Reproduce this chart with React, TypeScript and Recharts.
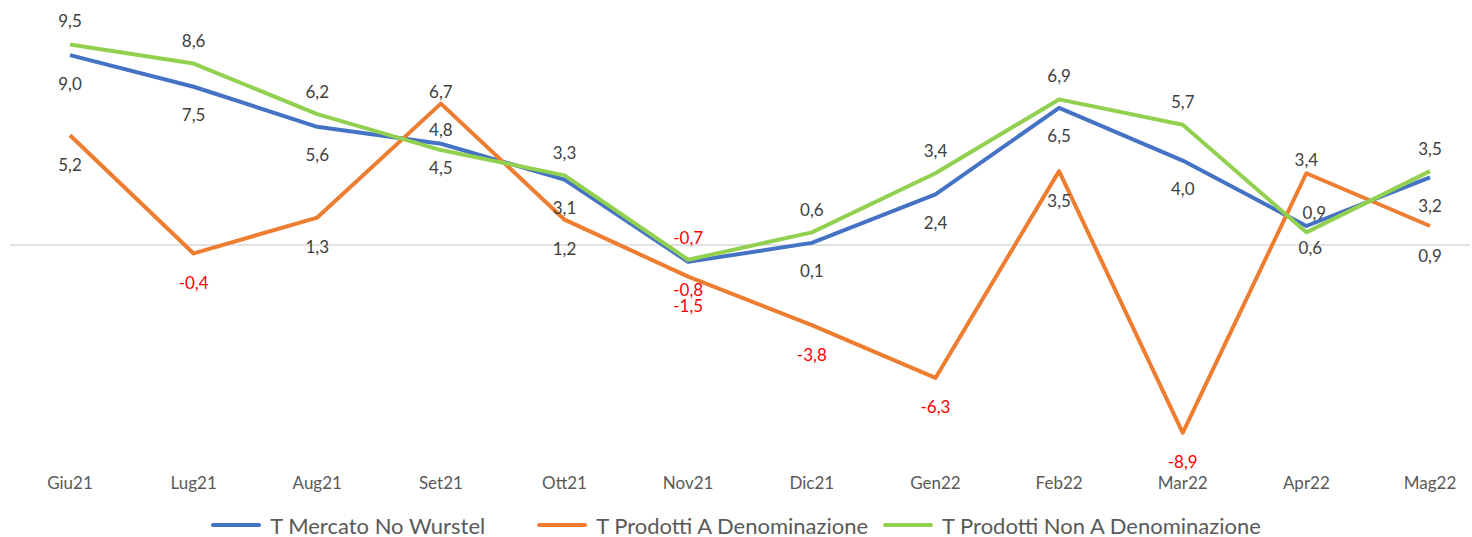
import React from "react";
import { LineChart, Line, XAxis, YAxis, ReferenceLine, LabelList } from "recharts";

const categories = ["Giu21", "Lug21", "Aug21", "Set21", "Ott21", "Nov21", "Dic21", "Gen22", "Feb22", "Mar22", "Apr22", "Mag22"];
const mercatoNoWurstel = [9.0, 7.5, 5.6, 4.8, 3.1, -0.8, 0.1, 2.4, 6.5, 4.0, 0.9, 3.2];
const prodottiDen = [5.2, -0.4, 1.3, 6.7, 1.2, -1.5, -3.8, -6.3, 3.5, -8.9, 3.4, 0.9];
const prodottiNonDen = [9.5, 8.6, 6.2, 4.5, 3.3, -0.7, 0.6, 3.4, 6.9, 5.7, 0.6, 3.5];

const seriesNames = ["T Mercato No Wurstel", "T Prodotti A Denominazione", "T Prodotti Non A Denominazione"];

const data = categories.map((c, i) => ({
  cat: c,
  mercato: mercatoNoWurstel[i],
  den: prodottiDen[i],
  nonDen: prodottiNonDen[i],
}));

// label offsets (px) from the point, per series
const offMercato = [28, 28, 28, -14, 28, 28, 28, 28, 28, 28, -14, 28];
const offDen = [29, 29, 29, -12, 29, 29, 29, 29, 29, 29, -14, 29];
const offNonDen = [-24, -23, -23, 17, -23, -22, -23, -23, -24, -23, 15, -23];
const dxMercato = [0, 0, 0, 0, 0, 0, 0, 0, 0, 0, 8, 0];
const dxDen = [0, 0, 0, 0, 0, 0, 0, 0, 0, 0, 0, 0];
const dxNonDen = [0, 0, 0, 0, 0, 0, 0, 0, 0, 0, 4, 0];
const legendGaps = [52, 15, 0];

const FONT = "Lato, 'Open Sans', sans-serif";
const COLORS = ["#4472C4", "#ED7D31", "#92D050"];

const fmt = (v: number) => v.toFixed(1).replace(".", ",");

const makeLabel = (offsets: number[], dxs: number[]) => (props: any) => {
  const { x, y, value, index } = props;
  const v = Number(value);
  return (
    <text
      x={x + dxs[index]}
      y={y + offsets[index]}
      textAnchor="middle"
      dominantBaseline="central"
      fontFamily={FONT}
      fontSize={17}
      fill={v < 0 ? "#FF0000" : "#404040"}
    >
      {fmt(v)}
    </text>
  );
};

const LegendItem = ({ color, label, gap }: { color: string; label: string; gap: number }) => (
  <div style={{ display: "flex", alignItems: "center", marginRight: gap }}>
    <svg width={50} height={8} style={{ marginRight: 9 }}>
      <line x1={2} y1={4} x2={48} y2={4} stroke={color} strokeWidth={4} strokeLinecap="round" />
    </svg>
    <span style={{ fontFamily: FONT, fontSize: 22, color: "#595959", whiteSpace: "nowrap" }}>{label}</span>
  </div>
);

export default function App() {
  return (
    <div style={{ position: "absolute", left: 0, top: 0, width: 1472, height: 537, background: "#fff" }}>
      <LineChart width={1472} height={537} data={data} margin={{ top: 34, right: 2, bottom: 51, left: 10 }}>
        <XAxis
          dataKey="cat"
          axisLine={false}
          tickLine={false}
          tickSize={0}
          tickMargin={21}
          interval={0}
          padding={{ left: 60, right: 40 }}
          tick={{ fill: "#595959", fontSize: 17, fontFamily: FONT }}
        />
        <YAxis hide domain={[-10, 10]} type="number" />
        <ReferenceLine y={0} stroke="#D9D9D9" strokeWidth={1.5} />
        <Line
          dataKey="mercato"
          name={seriesNames[0]}
          stroke={COLORS[0]}
          strokeWidth={4}
          dot={false}
          strokeLinejoin="round"
          isAnimationActive={false}
        >
          <LabelList dataKey="mercato" content={makeLabel(offMercato, dxMercato)} />
        </Line>
        <Line
          dataKey="den"
          name={seriesNames[1]}
          stroke={COLORS[1]}
          strokeWidth={4}
          dot={false}
          strokeLinejoin="round"
          isAnimationActive={false}
        >
          <LabelList dataKey="den" content={makeLabel(offDen, dxDen)} />
        </Line>
        <Line
          dataKey="nonDen"
          name={seriesNames[2]}
          stroke={COLORS[2]}
          strokeWidth={4}
          dot={false}
          strokeLinejoin="round"
          isAnimationActive={false}
        >
          <LabelList dataKey="nonDen" content={makeLabel(offNonDen, dxNonDen)} />
        </Line>
      </LineChart>
      <div
        style={{
          position: "absolute",
          left: 0,
          top: 510,
          width: 1472,
          height: 30,
          display: "flex",
          justifyContent: "center",
          alignItems: "center",
        }}
      >
        {seriesNames.map((n, i) => (
          <LegendItem key={n} color={COLORS[i]} label={n} gap={legendGaps[i]} />
        ))}
      </div>
    </div>
  );
}
